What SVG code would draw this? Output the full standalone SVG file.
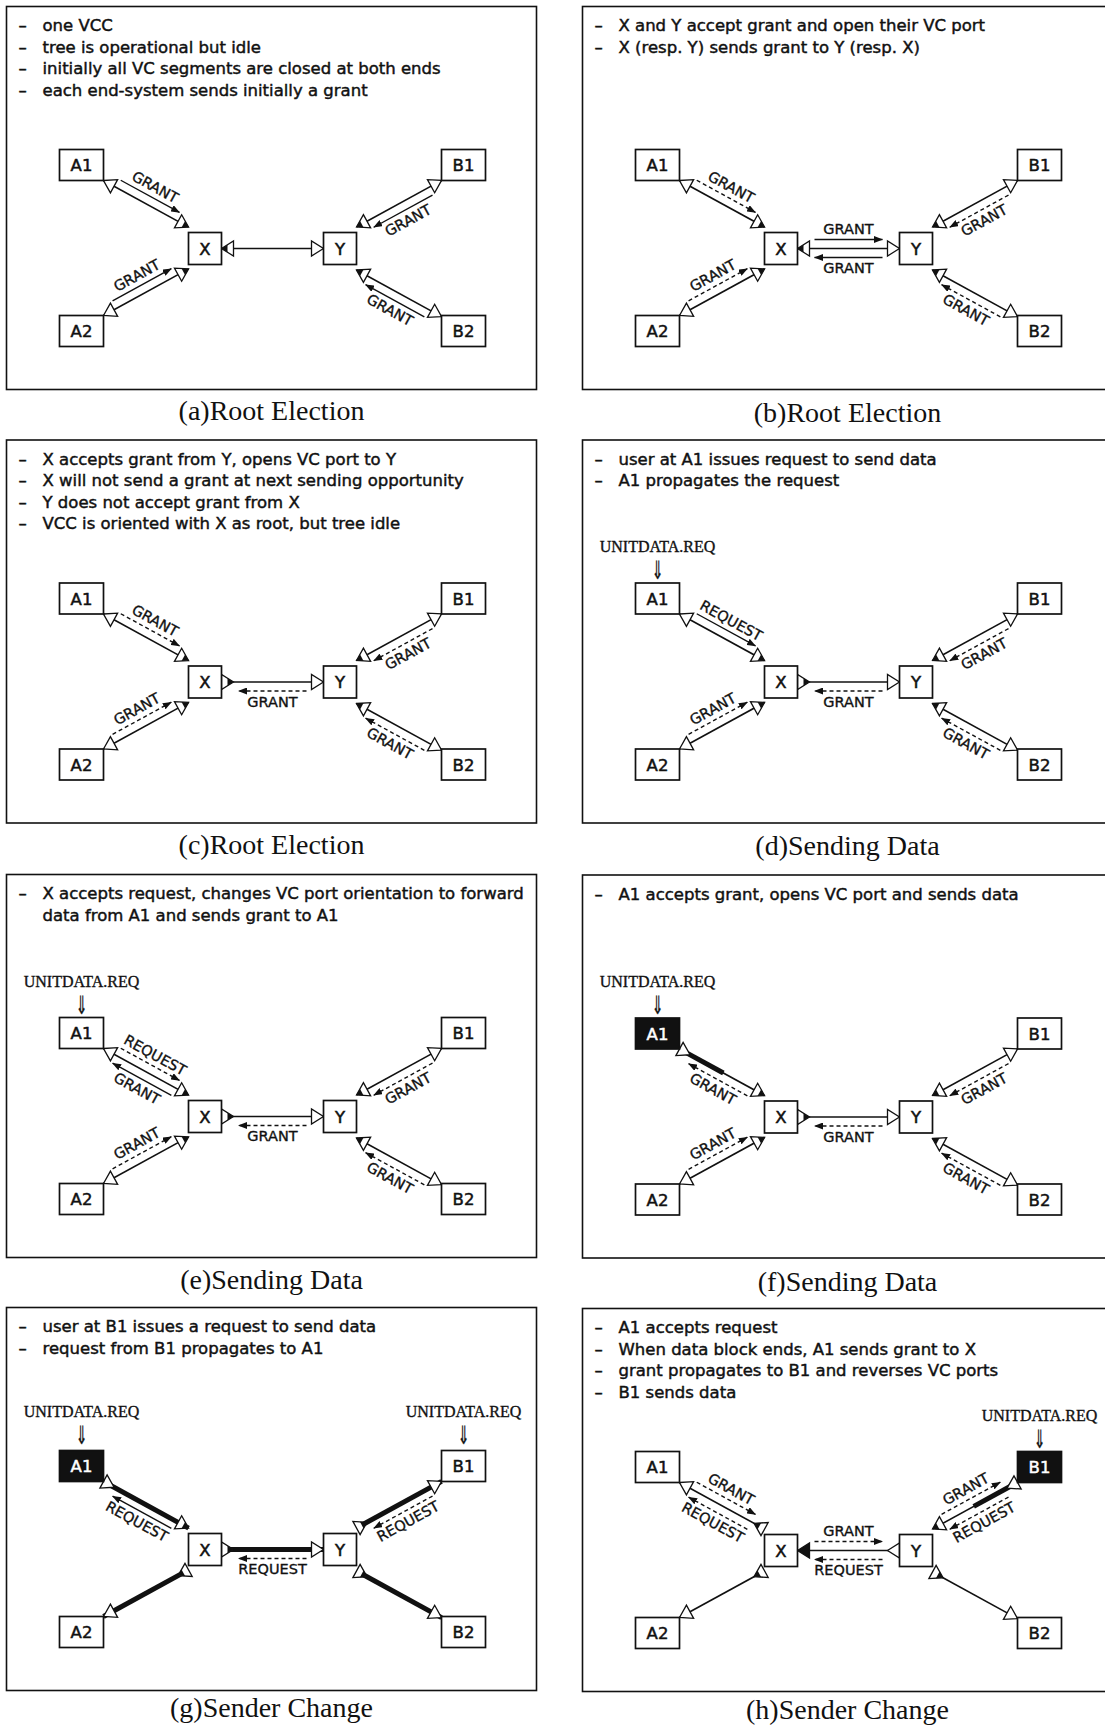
<svg xmlns="http://www.w3.org/2000/svg" width="1105" height="1725" viewBox="0 0 1105 1725">
<style>
.bg{fill:#fff}
.fr{fill:none;stroke:#111;stroke-width:1.6}
.nb{fill:#fff;stroke:#111;stroke-width:1.7}
.nk{fill:#111;stroke:#111;stroke-width:1.7}
.nt{font-family:"DejaVu Sans",sans-serif;font-size:16.5px;text-anchor:middle;fill:#111;stroke:#111;stroke-width:0.5}
.nw{fill:#fff;stroke:#fff}
.ds{font-family:"DejaVu Sans",sans-serif;font-size:16.5px;fill:#111;stroke:#111;stroke-width:0.45}
.cap{font-family:"Liberation Serif",serif;font-size:28px;text-anchor:middle;fill:#111}
.ud{font-family:"Liberation Serif",serif;font-size:16px;text-anchor:middle;fill:#111;stroke:#111;stroke-width:0.35}
.ar{font-family:"DejaVu Sans",sans-serif;font-size:20px;text-anchor:middle;fill:#111;stroke:#111;stroke-width:0.3}
.ln{stroke:#111;stroke-width:1.6;fill:none}
.th{stroke:#111;stroke-width:5}
.m{stroke:#111;stroke-width:1.4;fill:none;marker-end:url(#ah)}
.d{stroke-dasharray:4 3}
.lb{font-family:"DejaVu Sans",sans-serif;font-size:14.5px;text-anchor:middle;dominant-baseline:central;fill:#111;stroke:#111;stroke-width:0.35}
.tri{fill:#fff;stroke:#111;stroke-width:1.3}
</style>
<defs>
<marker id="ah" markerUnits="userSpaceOnUse" markerWidth="9" markerHeight="7" viewBox="0 0 9 7" refX="8.5" refY="3.5" orient="auto"><path d="M0,0 L9,3.5 L0,7 z" fill="#111"/></marker>
<polygon id="tri" class="tri" points="0,0 12,-7.5 12,7.5"/>
<g id="trib"><use href="#tri"/><polygon points="0,0 6,-3.75 6,3.75" fill="#111"/></g>
<polygon id="trif" points="0,0 12,-7.5 12,7.5" fill="#111" stroke="#111" stroke-width="1.3"/>
</defs>
<rect class="bg" width="1105" height="1725"/>

<!-- ============ (a) ============ -->
<g id="panel-a" transform="translate(6.5,6.5)">
<rect class="fr" width="530" height="383"/>
<g class="ds">
<text x="12" y="24.5">–</text><text x="36" y="24.5">one VCC</text>
<text x="12" y="46">–</text><text x="36" y="46">tree is operational but idle</text>
<text x="12" y="67.5">–</text><text x="36" y="67.5">initially all VC segments are closed at both ends</text>
<text x="12" y="89">–</text><text x="36" y="89">each end-system sends initially a grant</text>
</g>
<g id="a-connectors">
<g transform="translate(97,174) rotate(28.7)"><line class="ln" x2="97"/><line class="m" x1="15" y1="-8.5" x2="82" y2="-8.5"/><text class="lb" x="48.5" y="-19">GRANT</text><use href="#tri"/><use href="#trib" transform="translate(97,0) rotate(180)"/></g>
<g transform="translate(97,309) rotate(-28.7)"><line class="ln" x2="97"/><line class="m" x1="15" y1="-8.5" x2="82" y2="-8.5"/><text class="lb" x="48.5" y="-19">GRANT</text><use href="#tri"/><use href="#trib" transform="translate(97,0) rotate(180)"/></g>
<g transform="translate(350,220.5) rotate(-28.7)"><line class="ln" x2="97"/><line class="m" x1="82" y1="8.5" x2="15" y2="8.5"/><text class="lb" x="48.5" y="19">GRANT</text><use href="#trib"/><use href="#tri" transform="translate(97,0) rotate(180)"/></g>
<g transform="translate(350,263.5) rotate(28.7)"><line class="ln" x2="97"/><line class="m" x1="82" y1="8.5" x2="15" y2="8.5"/><text class="lb" x="48.5" y="19">GRANT</text><use href="#trib"/><use href="#tri" transform="translate(97,0) rotate(180)"/></g>
<g transform="translate(215,242)"><line class="ln" x2="102"/><use href="#trib"/><use href="#tri" transform="translate(102,0) rotate(180)"/></g>
</g>
<g id="a-A1"><rect class="nb" x="53" y="143" width="44" height="31"/><text class="nt" x="75" y="164.5">A1</text></g>
<g id="a-A2"><rect class="nb" x="53" y="309" width="44" height="31"/><text class="nt" x="75" y="330.5">A2</text></g>
<g id="a-B1"><rect class="nb" x="435" y="143" width="44" height="31"/><text class="nt" x="457" y="164.5">B1</text></g>
<g id="a-B2"><rect class="nb" x="435" y="309" width="44" height="31"/><text class="nt" x="457" y="330.5">B2</text></g>
<g id="a-X"><rect class="nb" x="182" y="226" width="33" height="32"/><text class="nt" x="198.5" y="248">X</text></g>
<g id="a-Y"><rect class="nb" x="317" y="226" width="33" height="32"/><text class="nt" x="333.5" y="248">Y</text></g>
</g>
<text class="cap" x="271.5" y="420">(a)Root Election</text>

<!-- ============ (b) ============ -->
<g id="panel-b" transform="translate(582.5,6.5)">
<rect class="fr" width="530" height="383"/>
<g class="ds">
<text x="12" y="24.5">–</text><text x="36" y="24.5">X and Y accept grant and open their VC port</text>
<text x="12" y="46">–</text><text x="36" y="46">X (resp. Y) sends grant to Y (resp. X)</text>
</g>
<g id="b-connectors">
<g transform="translate(97,174) rotate(28.7)"><line class="ln" x2="97"/><line class="m d" x1="15" y1="-8.5" x2="82" y2="-8.5"/><text class="lb" x="48.5" y="-19">GRANT</text><use href="#tri"/><use href="#trib" transform="translate(97,0) rotate(180)"/></g>
<g transform="translate(97,309) rotate(-28.7)"><line class="ln" x2="97"/><line class="m d" x1="15" y1="-8.5" x2="82" y2="-8.5"/><text class="lb" x="48.5" y="-19">GRANT</text><use href="#tri"/><use href="#trib" transform="translate(97,0) rotate(180)"/></g>
<g transform="translate(350,220.5) rotate(-28.7)"><line class="ln" x2="97"/><line class="m d" x1="82" y1="8.5" x2="15" y2="8.5"/><text class="lb" x="48.5" y="19">GRANT</text><use href="#trib"/><use href="#tri" transform="translate(97,0) rotate(180)"/></g>
<g transform="translate(350,263.5) rotate(28.7)"><line class="ln" x2="97"/><line class="m d" x1="82" y1="8.5" x2="15" y2="8.5"/><text class="lb" x="48.5" y="19">GRANT</text><use href="#trib"/><use href="#tri" transform="translate(97,0) rotate(180)"/></g>
<g transform="translate(215,242)"><line class="ln" x2="102"/><line class="m" x1="17" y1="-9" x2="85" y2="-9"/><text class="lb" x="51" y="-19.5">GRANT</text><line class="m" x1="85" y1="9" x2="17" y2="9"/><text class="lb" x="51" y="19.5">GRANT</text><use href="#trib"/><use href="#tri" transform="translate(102,0) rotate(180)"/></g>
</g>
<g id="b-A1"><rect class="nb" x="53" y="143" width="44" height="31"/><text class="nt" x="75" y="164.5">A1</text></g>
<g id="b-A2"><rect class="nb" x="53" y="309" width="44" height="31"/><text class="nt" x="75" y="330.5">A2</text></g>
<g id="b-B1"><rect class="nb" x="435" y="143" width="44" height="31"/><text class="nt" x="457" y="164.5">B1</text></g>
<g id="b-B2"><rect class="nb" x="435" y="309" width="44" height="31"/><text class="nt" x="457" y="330.5">B2</text></g>
<g id="b-X"><rect class="nb" x="182" y="226" width="33" height="32"/><text class="nt" x="198.5" y="248">X</text></g>
<g id="b-Y"><rect class="nb" x="317" y="226" width="33" height="32"/><text class="nt" x="333.5" y="248">Y</text></g>
</g>
<text class="cap" x="847.5" y="421.5">(b)Root Election</text>

<!-- ============ (c) ============ -->
<g id="panel-c" transform="translate(6.5,440)">
<rect class="fr" width="530" height="383"/>
<g class="ds">
<text x="12" y="24.5">–</text><text x="36" y="24.5">X accepts grant from Y, opens VC port to Y</text>
<text x="12" y="46">–</text><text x="36" y="46">X will not send a grant at next sending opportunity</text>
<text x="12" y="67.5">–</text><text x="36" y="67.5">Y does not accept grant from X</text>
<text x="12" y="89">–</text><text x="36" y="89">VCC is oriented with X as root, but tree idle</text>
</g>
<g id="c-connectors">
<g transform="translate(97,174) rotate(28.7)"><line class="ln" x2="97"/><line class="m d" x1="15" y1="-8.5" x2="82" y2="-8.5"/><text class="lb" x="48.5" y="-19">GRANT</text><use href="#tri"/><use href="#trib" transform="translate(97,0) rotate(180)"/></g>
<g transform="translate(97,309) rotate(-28.7)"><line class="ln" x2="97"/><line class="m d" x1="15" y1="-8.5" x2="82" y2="-8.5"/><text class="lb" x="48.5" y="-19">GRANT</text><use href="#tri"/><use href="#trib" transform="translate(97,0) rotate(180)"/></g>
<g transform="translate(350,220.5) rotate(-28.7)"><line class="ln" x2="97"/><line class="m d" x1="82" y1="8.5" x2="15" y2="8.5"/><text class="lb" x="48.5" y="19">GRANT</text><use href="#trib"/><use href="#tri" transform="translate(97,0) rotate(180)"/></g>
<g transform="translate(350,263.5) rotate(28.7)"><line class="ln" x2="97"/><line class="m d" x1="82" y1="8.5" x2="15" y2="8.5"/><text class="lb" x="48.5" y="19">GRANT</text><use href="#trib"/><use href="#tri" transform="translate(97,0) rotate(180)"/></g>
<g transform="translate(215,242)"><line class="ln" x2="102"/><line class="m d" x1="85" y1="9" x2="17" y2="9"/><text class="lb" x="51" y="19.5">GRANT</text><use href="#trib" transform="translate(12,0) rotate(180)"/><use href="#tri" transform="translate(102,0) rotate(180)"/></g>
</g>
<g id="c-A1"><rect class="nb" x="53" y="143" width="44" height="31"/><text class="nt" x="75" y="164.5">A1</text></g>
<g id="c-A2"><rect class="nb" x="53" y="309" width="44" height="31"/><text class="nt" x="75" y="330.5">A2</text></g>
<g id="c-B1"><rect class="nb" x="435" y="143" width="44" height="31"/><text class="nt" x="457" y="164.5">B1</text></g>
<g id="c-B2"><rect class="nb" x="435" y="309" width="44" height="31"/><text class="nt" x="457" y="330.5">B2</text></g>
<g id="c-X"><rect class="nb" x="182" y="226" width="33" height="32"/><text class="nt" x="198.5" y="248">X</text></g>
<g id="c-Y"><rect class="nb" x="317" y="226" width="33" height="32"/><text class="nt" x="333.5" y="248">Y</text></g>
</g>
<text class="cap" x="271.5" y="854">(c)Root Election</text>

<!-- ============ (d) ============ -->
<g id="panel-d" transform="translate(582.5,440)">
<rect class="fr" width="530" height="383"/>
<g class="ds">
<text x="12" y="24.5">–</text><text x="36" y="24.5">user at A1 issues request to send data</text>
<text x="12" y="46">–</text><text x="36" y="46">A1 propagates the request</text>
</g>
<text class="ud" x="75" y="112">UNITDATA.REQ</text><text class="ar" transform="translate(75,139) scale(0.7,1.25)">⇓</text>
<g id="d-connectors">
<g transform="translate(97,174) rotate(28.7)"><line class="ln" x2="97"/><line class="m" x1="15" y1="-8.5" x2="82" y2="-8.5"/><text class="lb" x="48.5" y="-19">REQUEST</text><use href="#tri"/><use href="#trib" transform="translate(97,0) rotate(180)"/></g>
<g transform="translate(97,309) rotate(-28.7)"><line class="ln" x2="97"/><line class="m d" x1="15" y1="-8.5" x2="82" y2="-8.5"/><text class="lb" x="48.5" y="-19">GRANT</text><use href="#tri"/><use href="#trib" transform="translate(97,0) rotate(180)"/></g>
<g transform="translate(350,220.5) rotate(-28.7)"><line class="ln" x2="97"/><line class="m d" x1="82" y1="8.5" x2="15" y2="8.5"/><text class="lb" x="48.5" y="19">GRANT</text><use href="#trib"/><use href="#tri" transform="translate(97,0) rotate(180)"/></g>
<g transform="translate(350,263.5) rotate(28.7)"><line class="ln" x2="97"/><line class="m d" x1="82" y1="8.5" x2="15" y2="8.5"/><text class="lb" x="48.5" y="19">GRANT</text><use href="#trib"/><use href="#tri" transform="translate(97,0) rotate(180)"/></g>
<g transform="translate(215,242)"><line class="ln" x2="102"/><line class="m d" x1="85" y1="9" x2="17" y2="9"/><text class="lb" x="51" y="19.5">GRANT</text><use href="#trib" transform="translate(12,0) rotate(180)"/><use href="#tri" transform="translate(102,0) rotate(180)"/></g>
</g>
<g id="d-A1"><rect class="nb" x="53" y="143" width="44" height="31"/><text class="nt" x="75" y="164.5">A1</text></g>
<g id="d-A2"><rect class="nb" x="53" y="309" width="44" height="31"/><text class="nt" x="75" y="330.5">A2</text></g>
<g id="d-B1"><rect class="nb" x="435" y="143" width="44" height="31"/><text class="nt" x="457" y="164.5">B1</text></g>
<g id="d-B2"><rect class="nb" x="435" y="309" width="44" height="31"/><text class="nt" x="457" y="330.5">B2</text></g>
<g id="d-X"><rect class="nb" x="182" y="226" width="33" height="32"/><text class="nt" x="198.5" y="248">X</text></g>
<g id="d-Y"><rect class="nb" x="317" y="226" width="33" height="32"/><text class="nt" x="333.5" y="248">Y</text></g>
</g>
<text class="cap" x="847.5" y="855">(d)Sending Data</text>

<!-- ============ (e) ============ -->
<g id="panel-e" transform="translate(6.5,874.5)">
<rect class="fr" width="530" height="383"/>
<g class="ds">
<text x="12" y="24.5">–</text><text x="36" y="24.5">X accepts request, changes VC port orientation to forward</text>
<text x="36" y="46">data from A1 and sends grant to A1</text>
</g>
<text class="ud" x="75" y="112">UNITDATA.REQ</text><text class="ar" transform="translate(75,139) scale(0.7,1.25)">⇓</text>
<g id="e-connectors">
<g transform="translate(97,174) rotate(28.7)"><line class="ln" x2="97"/><line class="m d" x1="15" y1="-8.5" x2="82" y2="-8.5"/><text class="lb" x="48.5" y="-19">REQUEST</text><line class="m" x1="82" y1="8.5" x2="15" y2="8.5"/><text class="lb" x="48.5" y="19">GRANT</text><use href="#tri"/><use href="#trib" transform="translate(97,0) rotate(180)"/></g>
<g transform="translate(97,309) rotate(-28.7)"><line class="ln" x2="97"/><line class="m d" x1="15" y1="-8.5" x2="82" y2="-8.5"/><text class="lb" x="48.5" y="-19">GRANT</text><use href="#tri"/><use href="#trib" transform="translate(97,0) rotate(180)"/></g>
<g transform="translate(350,220.5) rotate(-28.7)"><line class="ln" x2="97"/><line class="m d" x1="82" y1="8.5" x2="15" y2="8.5"/><text class="lb" x="48.5" y="19">GRANT</text><use href="#trib"/><use href="#tri" transform="translate(97,0) rotate(180)"/></g>
<g transform="translate(350,263.5) rotate(28.7)"><line class="ln" x2="97"/><line class="m d" x1="82" y1="8.5" x2="15" y2="8.5"/><text class="lb" x="48.5" y="19">GRANT</text><use href="#trib"/><use href="#tri" transform="translate(97,0) rotate(180)"/></g>
<g transform="translate(215,242)"><line class="ln" x2="102"/><line class="m d" x1="85" y1="9" x2="17" y2="9"/><text class="lb" x="51" y="19.5">GRANT</text><use href="#trib" transform="translate(12,0) rotate(180)"/><use href="#tri" transform="translate(102,0) rotate(180)"/></g>
</g>
<g id="e-A1"><rect class="nb" x="53" y="143" width="44" height="31"/><text class="nt" x="75" y="164.5">A1</text></g>
<g id="e-A2"><rect class="nb" x="53" y="309" width="44" height="31"/><text class="nt" x="75" y="330.5">A2</text></g>
<g id="e-B1"><rect class="nb" x="435" y="143" width="44" height="31"/><text class="nt" x="457" y="164.5">B1</text></g>
<g id="e-B2"><rect class="nb" x="435" y="309" width="44" height="31"/><text class="nt" x="457" y="330.5">B2</text></g>
<g id="e-X"><rect class="nb" x="182" y="226" width="33" height="32"/><text class="nt" x="198.5" y="248">X</text></g>
<g id="e-Y"><rect class="nb" x="317" y="226" width="33" height="32"/><text class="nt" x="333.5" y="248">Y</text></g>
</g>
<text class="cap" x="271.5" y="1289">(e)Sending Data</text>

<!-- ============ (f) ============ -->
<g id="panel-f" transform="translate(582.5,875)">
<rect class="fr" width="530" height="383"/>
<g class="ds">
<text x="12" y="24.5">–</text><text x="36" y="24.5">A1 accepts grant, opens VC port and sends data</text>
</g>
<text class="ud" x="75" y="112">UNITDATA.REQ</text><text class="ar" transform="translate(75,139) scale(0.7,1.25)">⇓</text>
<g id="f-connectors">
<g transform="translate(97,174) rotate(28.7)"><line class="ln" x2="97"/><line class="th" x1="6" x2="50"/><line class="m d" x1="82" y1="8.5" x2="15" y2="8.5"/><text class="lb" x="48.5" y="19">GRANT</text><use href="#tri" transform="translate(12,0) rotate(180)"/><use href="#trib" transform="translate(97,0) rotate(180)"/></g>
<g transform="translate(97,309) rotate(-28.7)"><line class="ln" x2="97"/><line class="m d" x1="15" y1="-8.5" x2="82" y2="-8.5"/><text class="lb" x="48.5" y="-19">GRANT</text><use href="#tri"/><use href="#trib" transform="translate(97,0) rotate(180)"/></g>
<g transform="translate(350,220.5) rotate(-28.7)"><line class="ln" x2="97"/><line class="m d" x1="82" y1="8.5" x2="15" y2="8.5"/><text class="lb" x="48.5" y="19">GRANT</text><use href="#trib"/><use href="#tri" transform="translate(97,0) rotate(180)"/></g>
<g transform="translate(350,263.5) rotate(28.7)"><line class="ln" x2="97"/><line class="m d" x1="82" y1="8.5" x2="15" y2="8.5"/><text class="lb" x="48.5" y="19">GRANT</text><use href="#trib"/><use href="#tri" transform="translate(97,0) rotate(180)"/></g>
<g transform="translate(215,242)"><line class="ln" x2="102"/><line class="m d" x1="85" y1="9" x2="17" y2="9"/><text class="lb" x="51" y="19.5">GRANT</text><use href="#trib" transform="translate(12,0) rotate(180)"/><use href="#tri" transform="translate(102,0) rotate(180)"/></g>
</g>
<g id="f-A1"><rect class="nk" x="53" y="143" width="44" height="31"/><text class="nt nw" x="75" y="164.5">A1</text></g>
<g id="f-A2"><rect class="nb" x="53" y="309" width="44" height="31"/><text class="nt" x="75" y="330.5">A2</text></g>
<g id="f-B1"><rect class="nb" x="435" y="143" width="44" height="31"/><text class="nt" x="457" y="164.5">B1</text></g>
<g id="f-B2"><rect class="nb" x="435" y="309" width="44" height="31"/><text class="nt" x="457" y="330.5">B2</text></g>
<g id="f-X"><rect class="nb" x="182" y="226" width="33" height="32"/><text class="nt" x="198.5" y="248">X</text></g>
<g id="f-Y"><rect class="nb" x="317" y="226" width="33" height="32"/><text class="nt" x="333.5" y="248">Y</text></g>
</g>
<text class="cap" x="847.5" y="1291">(f)Sending Data</text>

<!-- ============ (g) ============ -->
<g id="panel-g" transform="translate(6.5,1307.5)">
<rect class="fr" width="530" height="383"/>
<g class="ds">
<text x="12" y="24.5">–</text><text x="36" y="24.5">user at B1 issues a request to send data</text>
<text x="12" y="46">–</text><text x="36" y="46">request from B1 propagates to A1</text>
</g>
<text class="ud" x="75" y="109">UNITDATA.REQ</text><text class="ar" transform="translate(75,136) scale(0.7,1.25)">⇓</text>
<text class="ud" x="457" y="109">UNITDATA.REQ</text><text class="ar" transform="translate(457,136) scale(0.7,1.25)">⇓</text>
<g id="g-connectors">
<g transform="translate(97,174) rotate(28.7)"><line class="th" x2="97"/><line class="m" x1="82" y1="8.5" x2="15" y2="8.5"/><text class="lb" x="48.5" y="19">REQUEST</text><use href="#tri" transform="translate(12,0) rotate(180)"/><use href="#trib" transform="translate(97,0) rotate(180)"/></g>
<g transform="translate(97,309) rotate(-28.7)"><line class="th" x2="97"/><use href="#tri"/><use href="#trib" transform="translate(85,0)"/></g>
<g transform="translate(350,220.5) rotate(-28.7)"><line class="th" x2="97"/><line class="m d" x1="82" y1="8.5" x2="15" y2="8.5"/><text class="lb" x="48.5" y="19">REQUEST</text><use href="#trib" transform="translate(12,0) rotate(180)"/><use href="#tri" transform="translate(97,0) rotate(180)"/></g>
<g transform="translate(350,263.5) rotate(28.7)"><line class="th" x2="97"/><use href="#trib" transform="translate(12,0) rotate(180)"/><use href="#tri" transform="translate(97,0) rotate(180)"/></g>
<g transform="translate(215,242)"><line class="th" x2="102"/><line class="m d" x1="85" y1="9" x2="17" y2="9"/><text class="lb" x="51" y="19.5">REQUEST</text><use href="#trib" transform="translate(12,0) rotate(180)"/><use href="#tri" transform="translate(102,0) rotate(180)"/></g>
</g>
<g id="g-A1"><rect class="nk" x="53" y="143" width="44" height="31"/><text class="nt nw" x="75" y="164.5">A1</text></g>
<g id="g-A2"><rect class="nb" x="53" y="309" width="44" height="31"/><text class="nt" x="75" y="330.5">A2</text></g>
<g id="g-B1"><rect class="nb" x="435" y="143" width="44" height="31"/><text class="nt" x="457" y="164.5">B1</text></g>
<g id="g-B2"><rect class="nb" x="435" y="309" width="44" height="31"/><text class="nt" x="457" y="330.5">B2</text></g>
<g id="g-X"><rect class="nb" x="182" y="226" width="33" height="32"/><text class="nt" x="198.5" y="248">X</text></g>
<g id="g-Y"><rect class="nb" x="317" y="226" width="33" height="32"/><text class="nt" x="333.5" y="248">Y</text></g>
</g>
<text class="cap" x="271.5" y="1717">(g)Sender Change</text>

<!-- ============ (h) ============ -->
<g id="panel-h" transform="translate(582.5,1308.5)">
<rect class="fr" width="530" height="383"/>
<g class="ds">
<text x="12" y="24.5">–</text><text x="36" y="24.5">A1 accepts request</text>
<text x="12" y="46">–</text><text x="36" y="46">When data block ends, A1 sends grant to X</text>
<text x="12" y="67.5">–</text><text x="36" y="67.5">grant propagates to B1 and reverses VC ports</text>
<text x="12" y="89">–</text><text x="36" y="89">B1 sends data</text>
</g>
<text class="ud" x="457" y="112">UNITDATA.REQ</text><text class="ar" transform="translate(457,139) scale(0.7,1.25)">⇓</text>
<g id="h-connectors">
<g transform="translate(97,174) rotate(28.7)"><line class="ln" x2="97"/><line class="m d" x1="15" y1="-8.5" x2="82" y2="-8.5"/><text class="lb" x="48.5" y="-19">GRANT</text><line class="m d" x1="82" y1="8.5" x2="15" y2="8.5"/><text class="lb" x="48.5" y="19">REQUEST</text><use href="#tri"/><use href="#trib" transform="translate(85,0)"/></g>
<g transform="translate(97,309) rotate(-28.7)"><line class="ln" x2="97"/><use href="#tri"/><use href="#trib" transform="translate(85,0)"/></g>
<g transform="translate(350,220.5) rotate(-28.7)"><line class="ln" x2="97"/><line class="th" x1="47" x2="91"/><line class="m d" x1="15" y1="-8.5" x2="82" y2="-8.5"/><text class="lb" x="48.5" y="-19">GRANT</text><line class="m d" x1="82" y1="8.5" x2="15" y2="8.5"/><text class="lb" x="48.5" y="19">REQUEST</text><use href="#trib"/><use href="#tri" transform="translate(85,0)"/></g>
<g transform="translate(350,263.5) rotate(28.7)"><line class="ln" x2="97"/><use href="#trib" transform="translate(12,0) rotate(180)"/><use href="#tri" transform="translate(97,0) rotate(180)"/></g>
<g transform="translate(215,242)"><line class="ln" x2="102"/><line class="m d" x1="17" y1="-9" x2="85" y2="-9"/><text class="lb" x="51" y="-19.5">GRANT</text><line class="m d" x1="85" y1="9" x2="17" y2="9"/><text class="lb" x="51" y="19.5">REQUEST</text><use href="#trif"/><use href="#tri" transform="translate(90,0)"/></g>
</g>
<g id="h-A1"><rect class="nb" x="53" y="143" width="44" height="31"/><text class="nt" x="75" y="164.5">A1</text></g>
<g id="h-A2"><rect class="nb" x="53" y="309" width="44" height="31"/><text class="nt" x="75" y="330.5">A2</text></g>
<g id="h-B1"><rect class="nk" x="435" y="143" width="44" height="31"/><text class="nt nw" x="457" y="164.5">B1</text></g>
<g id="h-B2"><rect class="nb" x="435" y="309" width="44" height="31"/><text class="nt" x="457" y="330.5">B2</text></g>
<g id="h-X"><rect class="nb" x="182" y="226" width="33" height="32"/><text class="nt" x="198.5" y="248">X</text></g>
<g id="h-Y"><rect class="nb" x="317" y="226" width="33" height="32"/><text class="nt" x="333.5" y="248">Y</text></g>
</g>
<text class="cap" x="847.5" y="1719">(h)Sender Change</text>
</svg>
